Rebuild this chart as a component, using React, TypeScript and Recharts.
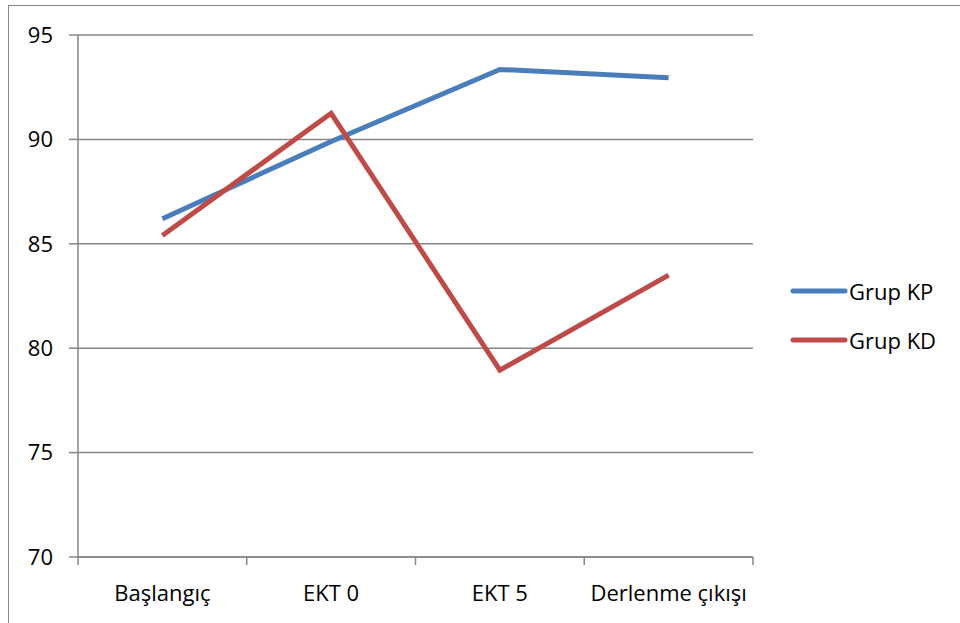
import React from "react";
import { CartesianGrid, Line, LineChart, XAxis, YAxis } from "recharts";

const categories = ["Başlangıç", "EKT 0", "EKT 5", "Derlenme çıkışı"];
const grupKP = [86.2, 89.9, 93.35, 92.95];
const grupKD = [85.4, 91.25, 78.95, 83.5];
const yTicks = [70, 75, 80, 85, 90, 95];

const series = [
  { key: "kp", name: "Grup KP", color: "#4A7EBB" },
  { key: "kd", name: "Grup KD", color: "#BE4B48" },
];

// each category sits in the middle of its own unit-wide slot on a numeric axis
const data = categories.map((name, i) => ({
  slot: i + 0.5,
  name,
  kp: grupKP[i],
  kd: grupKD[i],
}));

// boundaries get a tick mark, slot centres get the category name
const xTicks: number[] = [];
for (let i = 0; i <= categories.length * 2; i++) xTicks.push(i / 2);

const FONT = "'Open Sans', sans-serif";
const FONT_SIZE = 22;
const GRAY = "#878787";

function SlotTick(props: any) {
  const { x, y, payload } = props;
  const v = payload.value as number;
  if (Number.isInteger(v)) {
    return <line x1={x} y1={y} x2={x} y2={y + 8} stroke={GRAY} strokeWidth={1.5} />;
  }
  return (
    <text
      x={x}
      y={y + 44}
      textAnchor="middle"
      fontFamily={FONT}
      fontSize={FONT_SIZE}
      fill="#000"
    >
      {categories[Math.floor(v)]}
    </text>
  );
}

function SideLegend() {
  return (
    <div style={{ fontFamily: FONT, fontSize: FONT_SIZE, color: "#000" }}>
      {series.map((s) => (
        <div
          key={s.key}
          style={{ display: "flex", alignItems: "center", height: 49 }}
        >
          <svg width={58} height={10}>
            <line
              x1={3}
              y1={5}
              x2={55}
              y2={5}
              stroke={s.color}
              strokeWidth={5}
              strokeLinecap="round"
            />
          </svg>
          <span style={{ marginLeft: 1 }}>{s.name}</span>
        </div>
      ))}
    </div>
  );
}

export default function App() {
  return (
    <div
      style={{
        position: "fixed",
        left: 0,
        top: 0,
        width: 960,
        height: 623,
        background: "#fff",
        overflow: "hidden",
      }}
    >
      <div
        style={{
          position: "absolute",
          left: 8,
          top: 5,
          width: 1200,
          height: 1200,
          border: `1.5px solid ${GRAY}`,
        }}
      />
      <div style={{ position: "absolute", left: 0, top: 0 }}>
        <LineChart
          width={960}
          height={623}
          data={data}
          margin={{ top: 35, right: 207, bottom: 0, left: 0 }}
        >
          <CartesianGrid vertical={false} stroke={GRAY} strokeWidth={1.5} />
          <XAxis
            dataKey="slot"
            type="number"
            domain={[0, categories.length]}
            ticks={xTicks}
            interval={0}
            height={66}
            tickSize={0}
            tickMargin={0}
            tickLine={false}
            axisLine={{ stroke: GRAY, strokeWidth: 1.5 }}
            tick={<SlotTick />}
          />
          <YAxis
            domain={[70, 95]}
            ticks={yTicks}
            width={78}
            tickSize={9}
            tickMargin={16}
            axisLine={{ stroke: GRAY, strokeWidth: 1.5 }}
            tickLine={{ stroke: GRAY, strokeWidth: 1.5 }}
            tick={{ fontFamily: FONT, fontSize: FONT_SIZE, fill: "#000" }}
          />
          {series.map((s) => (
            <Line
              key={s.key}
              dataKey={s.key}
              name={s.name}
              stroke={s.color}
              strokeWidth={5}
              dot={false}
              activeDot={false}
              type="linear"
              isAnimationActive={false}
            />
          ))}
        </LineChart>
      </div>
      <div style={{ position: "absolute", left: 790, top: 266 }}>
        <SideLegend />
      </div>
    </div>
  );
}
